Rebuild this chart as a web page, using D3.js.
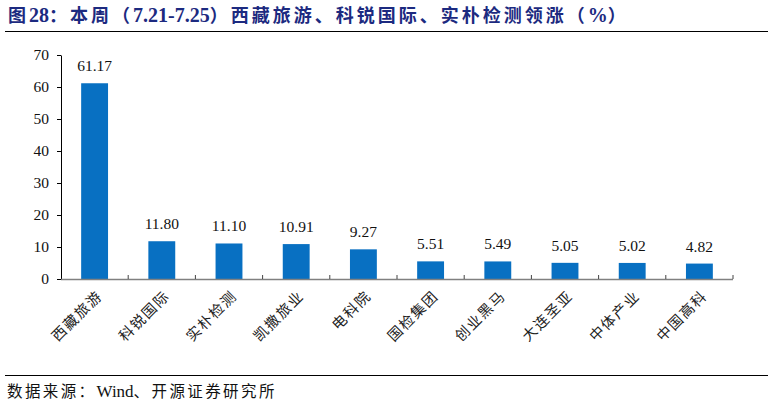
<!DOCTYPE html>
<html><head><meta charset="utf-8">
<script src="https://cdn.jsdelivr.net/npm/d3@7/dist/d3.min.js"></script>
<style>
body{margin:0;background:#fff;}
svg{display:block;}
</style></head>
<body><svg id="c" width="774" height="405"></svg>
<script>
const categories = ["西藏旅游","科锐国际","实朴检测","凯撒旅业","电科院","国检集团","创业黑马","大连圣亚","中体产业","中国高科"];
const values = [61.17, 11.80, 11.10, 10.91, 9.27, 5.51, 5.49, 5.05, 5.02, 4.82];
const valueLabels = ["61.17","11.80","11.10","10.91","9.27","5.51","5.49","5.05","5.02","4.82"];
const yTicks = [0,10,20,30,40,50,60,70];
// title pieces: [text, isLatin]
const titleParts = [["图",0],["28",1],["：本周（",0],["7.21-7.25",1],["）西藏旅游、科锐国际、实朴检测领涨（",0],["%",1],["）",0]];
const sourceParts = [["数据来源：",0],["Wind",1],["、开源证券研究所",0]];

const svg = d3.select("#c");
const serif = "'Liberation Serif','Times New Roman','Noto Sans CJK SC',serif";
const cjk = "'Noto Sans CJK SC',sans-serif";

const t = svg.append("text").attr("x",8).attr("y",22)
  .attr("font-weight","bold").attr("fill","#1c2a80");
t.selectAll("tspan").data(titleParts).join("tspan")
  .attr("font-family",d=>d[1]?serif:cjk)
  .attr("font-size",d=>d[1]?20:18)
  .attr("letter-spacing",d=>d[1]?0:3)
  .text(d=>d[0]);
svg.append("line").attr("x1",5).attr("x2",768).attr("y1",31.5).attr("y2",31.5)
  .attr("stroke","#000").attr("stroke-width",1.2);

const x0=61, x1=733, yTop=55, yBot=279;
const x = d3.scaleBand().domain(categories).range([x0,x1]).paddingInner(0.6).paddingOuter(0.3);
const y = d3.scaleLinear().domain([0,70]).range([yBot,yTop]);

const g = svg.append("g");
g.selectAll("rect.bar").data(values).join("rect")
  .attr("x",(d,i)=>x(categories[i])).attr("width",x.bandwidth())
  .attr("y",d=>y(d)).attr("height",d=>yBot-y(d))
  .attr("fill","#0870c2");

g.selectAll("text.val").data(values).join("text")
  .attr("x",(d,i)=>x(categories[i])+x.bandwidth()/2)
  .attr("y",d=>y(d)-12)
  .attr("text-anchor","middle").attr("font-family",serif).attr("font-size",15.5).attr("fill","#111")
  .text((d,i)=>valueLabels[i]);

// y axis
const yAxis = d3.axisLeft(y).tickValues(yTicks).tickSize(4).tickSizeOuter(0).tickPadding(8);
const ya = svg.append("g").attr("transform",`translate(${x0},0)`).call(yAxis);
ya.select(".domain").attr("stroke","#000");
ya.selectAll(".tick line").attr("stroke","#000");
ya.selectAll(".tick text").attr("font-family",serif).attr("font-size",15.5).attr("fill","#111");

// x axis
const bounds = categories.map((c,i)=>x0 + (i+1)*((x1-x0)/categories.length));
svg.append("line").attr("x1",x0).attr("x2",x1).attr("y1",yBot+0.5).attr("y2",yBot+0.5)
  .attr("stroke","#808080").attr("stroke-width",1.5);
svg.selectAll("line.xt").data(bounds).join("line")
  .attr("x1",d=>d).attr("x2",d=>d).attr("y1",yBot).attr("y2",yBot-4)
  .attr("stroke","#444").attr("stroke-width",1);

svg.selectAll("text.cat").data(categories).join("text")
  .attr("transform",d=>`translate(${x(d)+x.bandwidth()/2+6},${yBot+15}) rotate(-45)`)
  .attr("text-anchor","end").attr("dominant-baseline","middle")
  .attr("font-family",cjk).attr("font-size",14.5).attr("letter-spacing",1.6).attr("fill","#222")
  .text(d=>d);

svg.append("line").attr("x1",5).attr("x2",768).attr("y1",375.5).attr("y2",375.5)
  .attr("stroke","#000").attr("stroke-width",1.2);
const s = svg.append("text").attr("x",7).attr("y",397).attr("fill","#111");
s.selectAll("tspan").data(sourceParts).join("tspan")
  .attr("font-family",d=>d[1]?serif:cjk)
  .attr("font-size",d=>d[1]?17:15.5)
  .attr("letter-spacing",d=>d[1]?0:2.4)
  .text(d=>d[0]);
</script></body></html>
